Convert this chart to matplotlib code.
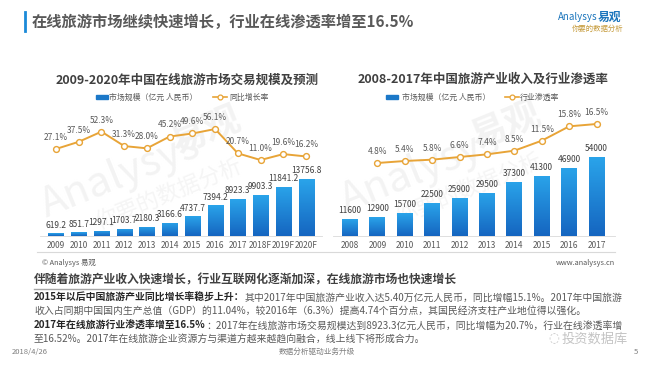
import numpy as np
import matplotlib
matplotlib.use('Agg')
import matplotlib.pyplot as plt
from matplotlib.colors import LinearSegmentedColormap
from matplotlib.patches import Rectangle
from matplotlib.lines import Line2D

plt.rcParams['font.family'] = ['Noto Sans CJK SC', 'DejaVu Sans']

# data
years_l = ['2009', '2010', '2011', '2012', '2013', '2014', '2015', '2016',
           '2017', '2018F', '2019F', '2020F']
scale_l = [619.2, 851.7, 1297.1, 1703.7, 2180.3, 3166.6, 4737.7, 7394.2,
           8923.3, 9903.3, 11841.2, 13756.8]
growth_l = [27.1, 37.5, 52.3, 31.3, 28.0, 45.2, 49.6, 56.1, 20.7, 11.0, 19.6, 16.2]

years_r = ['2008', '2009', '2010', '2011', '2012', '2013', '2014', '2015', '2016', '2017']
income_r = [11600, 12900, 15700, 22500, 25900, 29500, 37300, 41300, 46900, 54000]
rate_years = years_r[1:]
rate_r = [4.8, 5.4, 5.8, 6.6, 7.4, 8.5, 11.5, 15.8, 16.5]

title = '在线旅游市场继续快速增长，行业在线渗透率增至16.5%'
title_l = '2009-2020年中国在线旅游市场交易规模及预测'
title_r = '2008-2017年中国旅游产业收入及行业渗透率'
leg_bar = '市场规模（亿元 人民币）'
leg_line_l = '同比增长率'
leg_line_r = '行业渗透率'
heading = '伴随着旅游产业收入快速增长，行业互联网化逐渐加深，在线旅游市场也快速增长'
para = [
    ('2015年以后中国旅游产业同比增长率稳步上升：',
     '其中2017年中国旅游产业收入达5.40万亿元人民币，同比增幅15.1%。2017年中国旅游'),
    ('', '收入占同期中国国内生产总值（GDP）的11.04%，较2016年（6.3%）提高4.74个百分点，其国民经济支柱产业地位得以强化。'),
    ('2017年在线旅游行业渗透率增至16.5%',
     '：2017年在线旅游市场交易规模达到8923.3亿元人民币，同比增幅为20.7%，行业在线渗透率增'),
    ('', '至16.52%。2017年在线旅游企业资源方与渠道方越来越趋向融合，线上线下将形成合力。'),
]

W, H = 650, 365
BLUE = '#1b78c8'
ORANGE = '#e8a437'
GRAY = '#595959'

fig = plt.figure(figsize=(W / 100, H / 100), dpi=100)
fig.patch.set_facecolor('white')


def ftext(x, y, s, **kw):
    return fig.text(x / W, 1 - y / H, s, **kw)


def add_ax(l, t, r, b):
    ax = fig.add_axes([l / W, 1 - b / H, (r - l) / W, (b - t) / H])
    ax.patch.set_alpha(0)
    return ax


def hline(x0, x1, y, color, lw=0.8):
    fig.add_artist(Line2D([x0 / W, x1 / W], [1 - y / H, 1 - y / H],
                          transform=fig.transFigure, color=color, lw=lw))


cmap = LinearSegmentedColormap.from_list('bar', ['#1565c0', '#2aa4ea'])


def gradient(ax, bars):
    grad = np.linspace(0, 1, 256).reshape(-1, 1)
    xl, yl = ax.get_xlim(), ax.get_ylim()
    for b in bars:
        x, y = b.get_xy()
        w, h = b.get_width(), b.get_height()
        im = ax.imshow(grad, extent=[x, x + w, y, y + h], origin='lower',
                       aspect='auto', cmap=cmap, zorder=2)
        im.set_clip_path(b)
        b.set_facecolor('none')
    ax.set_xlim(xl)
    ax.set_ylim(yl)


def chart(l, r, first_x, step, bw, cats, vals, ymax, lx, lvals, lylim, fmt):
    x0 = (l - first_x) / step
    x1 = (r - first_x) / step
    ax = add_ax(l, 110, r, 236)
    pos = np.arange(len(cats))
    bars = ax.bar(pos, vals, width=bw, color=BLUE, zorder=2)
    ax.set_xlim(x0, x1)
    ax.set_ylim(0, ymax)
    gradient(ax, bars)
    for p, v in zip(pos, vals):
        ax.annotate(fmt(v), (p, v), xytext=(0, 6), textcoords='offset points',
                    ha='center', va='center', fontsize=6, color='#404040')
    ax.set_xticks(pos)
    ax.set_xticklabels(cats, fontsize=6, color=GRAY)
    ax.tick_params(axis='x', length=0, pad=3.5)
    ax.set_yticks([])
    for s in ['top', 'left', 'right']:
        ax.spines[s].set_visible(False)
    ax.spines['bottom'].set_color('#d9d9d9')
    ax.spines['bottom'].set_linewidth(0.6)

    ax2 = ax.twinx()
    ax2.patch.set_alpha(0)
    ax2.plot(lx, lvals, color=ORANGE, lw=1.4, marker='o', markersize=4.2,
             markerfacecolor='white', markeredgecolor=ORANGE, markeredgewidth=1,
             zorder=3)
    for p, v in zip(lx, lvals):
        ax2.annotate('%.1f%%' % v, (p, v), xytext=(0, 8.3), textcoords='offset points',
                     ha='center', va='center', fontsize=6, color=GRAY)
    ax2.set_ylim(*lylim)
    ax2.set_xlim(x0, x1)
    ax2.set_yticks([])
    ax2.axis('off')
    return ax


# faint watermarks behind the charts
for cx, cy in [(150, 175), (450, 170)]:
    ftext(cx - 30, cy, 'Analysys', fontsize=30, style='italic', color='#f3f3f3',
          rotation=22, ha='center', va='center', zorder=-1)
    ftext(cx + 55, cy - 45, '易观', fontsize=26, color='#f3f3f3', fontweight='bold',
          rotation=22, ha='center', va='center', zorder=-1)
    ftext(cx + 20, cy + 20, '你要的数据分析', fontsize=16, color='#f5f5f5',
          rotation=22, ha='center', va='center', zorder=-1)

chart(40, 322, 56, 22.73, 0.66, years_l, scale_l, 30435,
      np.arange(len(years_l)), growth_l, (-99.6, 83.8), lambda v: '%.1f' % v)
chart(333, 615, 350, 27.4, 0.58, years_r, income_r, 86300,
      np.arange(1, len(years_r)), rate_r, (-17.1, 20.7), lambda v: '%d' % v)

# title bar
fig.add_artist(Line2D([25 / W, 25 / W], [1 - 12 / H, 1 - 31 / H],
                      transform=fig.transFigure, color='#1b8ad8', lw=2))
ftext(32, 21.5, title, fontsize=11, fontweight='bold', color=GRAY, va='center')

# logo
ftext(558, 17, 'Analysys', fontsize=7, style='italic', color='#1b75bc', va='center')
ftext(598, 17, '易观', fontsize=8.5, fontweight='bold', color='#1b75bc', va='center')
ftext(572, 29, '你要的数据分析', fontsize=5.3, style='italic', color='#c59a3a', va='center')

# chart titles
ftext(187, 80, title_l, fontsize=9, fontweight='bold', color='#404040',
      ha='center', va='center')
ftext(483, 79, title_r, fontsize=9, fontweight='bold', color='#404040',
      ha='center', va='center')

# legends
for sq, tx, lnx, tx2, lab in [(96, 109, 213, 229, leg_line_l),
                              (386, 402, 505, 520, leg_line_r)]:
    fig.add_artist(Rectangle((sq / W, 1 - 99 / H), 12 / W, 4 / H,
                             transform=fig.transFigure, color=BLUE))
    ftext(tx, 97, leg_bar, fontsize=5.7, color=GRAY, va='center')
    fig.add_artist(Line2D([lnx / W, (lnx + 14) / W], [1 - 97 / H, 1 - 97 / H],
                          transform=fig.transFigure, color=ORANGE, lw=1.2))
    fig.add_artist(Line2D([(lnx + 7) / W], [1 - 97 / H], transform=fig.transFigure,
                          marker='o', markersize=3.5, markerfacecolor='white',
                          markeredgecolor=ORANGE, markeredgewidth=0.9, lw=0))
    ftext(tx2, 97, lab, fontsize=5.7, color=GRAY, va='center')

# source line
hline(37, 615, 252, '#d9d9d9')
ftext(42, 263, '© Analysys 易观', fontsize=5.3, color=GRAY, va='center')
ftext(615, 263, 'www.analysys.cn', fontsize=5.3, color=GRAY, va='center', ha='right')

# text block
ftext(34, 280, heading, fontsize=8.5, fontweight='bold', color='#404040', va='center')
hline(34, 150, 289, '#a6a6a6', lw=1)

renderer = fig.canvas.get_renderer()
for (bold, normal), y in zip(para, [298, 311, 326, 339]):
    x = 34
    if bold:
        t = ftext(x, y, bold, fontsize=7.1, fontweight='bold', color='#262626', va='center')
        bb = t.get_window_extent(renderer)
        x = bb.x1
    ftext(x, y, normal, fontsize=7.1, color=GRAY, va='center')

# footer
ftext(12, 352, '2018/4/26', fontsize=5.5, color='#7f7f7f', va='center')
ftext(317, 352, '数据分析驱动业务升级', fontsize=5.5, color='#7f7f7f', va='center', ha='center')
ftext(634, 352, '5', fontsize=5.5, color='#7f7f7f', va='center')
ftext(562, 339, '投资数据库', fontsize=9.5, color='#c4c4c4', va='center')
ftext(548, 339, '◌', fontsize=9, color='#c4c4c4', va='center', family=['DejaVu Sans'])

fig.savefig('out.png', dpi=100)
